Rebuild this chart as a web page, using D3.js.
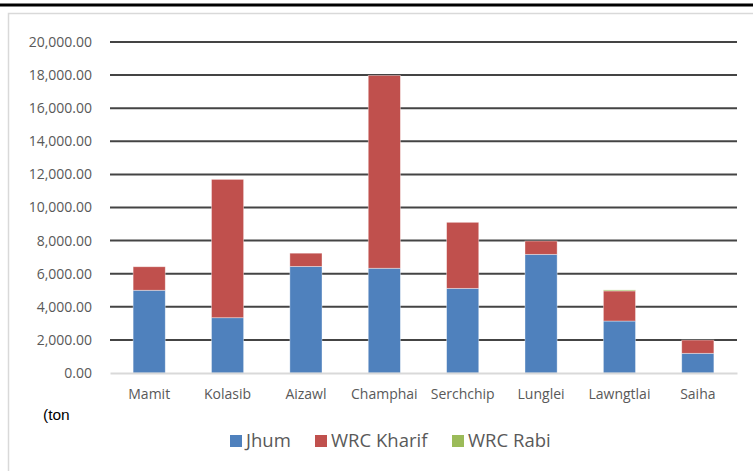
<!DOCTYPE html>
<html>
<head>
<meta charset="utf-8">
<script src="https://cdn.jsdelivr.net/npm/d3@7"></script>
<style>
  body { margin: 0; background: #fff; }
  svg { display: block; }
</style>
</head>
<body>
<div id="chart"></div>
<script>
    // Districts on the x axis
    var districts = ["Mamit", "Kolasib", "Aizawl", "Champhai", "Serchchip", "Lunglei", "Lawngtlai", "Saiha"];
    // Production per season (ton)
    var jhum = [5000, 3340, 6440, 6330, 5115, 7170, 3140, 1190];
    var wrcKharif = [1420, 8360, 800, 11650, 3990, 805, 1820, 800];
    var wrcRabi = [0, 0, 0, 0, 0, 0, 60, 0];
    var seriesNames = ["Jhum", "WRC Kharif", "WRC Rabi"];
    var yTicks = [0, 2000, 4000, 6000, 8000, 10000, 12000, 14000, 16000, 18000, 20000];
    var unitLabel = "(ton";

    var width = 753, height = 471;
    var margin = {top: 42, right: 16, bottom: 98, left: 110};
    var colors = ["#4f81bd", "#c0504d", "#9bbb59"];

    var svg = d3.select("#chart").append("svg")
        .attr("width", width)
        .attr("height", height);

    // top rule and the chart frame
    svg.append("rect")
        .attr("x", 0).attr("y", 3.5)
        .attr("width", width).attr("height", 3)
        .attr("fill", "#000");
    svg.append("path")
        .attr("d", "M8.5," + height + "V13.5H" + width)
        .attr("fill", "none")
        .attr("stroke", "#d9d9d9")
        .attr("stroke-width", 1.5);

    var rows = districts.map(function(d, i) {
        return {district: d, Jhum: jhum[i], "WRC Kharif": wrcKharif[i], "WRC Rabi": wrcRabi[i]};
    });
    var stacked = d3.stack().keys(seriesNames)(rows);

    var x = d3.scaleBand()
        .domain(districts)
        .range([margin.left, width - margin.right])
        .paddingInner(0.59)
        .paddingOuter(0.295);
    var y = d3.scaleLinear()
        .domain([0, 20000])
        .range([height - margin.bottom, margin.top]);

    // gridlines
    svg.append("g")
        .selectAll("line")
        .data(yTicks.filter(function(t) { return t > 0; }))
        .join("line")
        .attr("x1", margin.left)
        .attr("x2", width - margin.right)
        .attr("y1", function(d) { return y(d); })
        .attr("y2", function(d) { return y(d); })
        .attr("stroke", "#444")
        .attr("stroke-width", 2);

    // y axis labels
    var yAxis = d3.axisLeft(y)
        .tickValues(yTicks)
        .tickSize(0)
        .tickPadding(18)
        .tickFormat(d3.format(",.2f"));
    var gy = svg.append("g")
        .attr("transform", "translate(" + margin.left + ",0)")
        .call(yAxis);
    gy.select(".domain").remove();
    gy.selectAll("text")
        .attr("font-family", "Open Sans")
        .attr("font-size", "14px")
        .attr("fill", "#595959");

    // bars
    svg.append("g")
        .selectAll("g")
        .data(stacked)
        .join("g")
        .attr("fill", function(d, i) { return colors[i]; })
        .selectAll("rect")
        .data(function(d) { return d; })
        .join("rect")
        .attr("x", function(d) { return x(d.data.district); })
        .attr("y", function(d) { return y(d[1]); })
        .attr("width", x.bandwidth())
        .attr("height", function(d) { return y(d[0]) - y(d[1]); })
        .attr("stroke", "#fff")
        .attr("stroke-opacity", 0.5)
        .attr("stroke-width", 0.75);

    // x axis
    var xAxis = d3.axisBottom(x).tickSize(0).tickPadding(16);
    var gx = svg.append("g")
        .attr("transform", "translate(0," + y(0) + ")")
        .call(xAxis);
    gx.select(".domain")
        .attr("stroke", "#d9d9d9")
        .attr("stroke-width", 2);
    gx.selectAll("text")
        .attr("font-family", "Open Sans")
        .attr("font-size", "14px")
        .attr("fill", "#595959");

    svg.append("text")
        .attr("x", 43)
        .attr("y", 420)
        .attr("font-family", "Liberation Sans")
        .attr("font-size", "15.5px")
        .attr("fill", "#000")
        .text(unitLabel);

    // legend
    var legendX = [230, 315, 452];
    var legend = svg.append("g")
        .selectAll("g")
        .data(seriesNames)
        .join("g")
        .attr("transform", function(d, i) { return "translate(" + legendX[i] + ",435)"; });
    legend.append("rect")
        .attr("width", 12)
        .attr("height", 12)
        .attr("fill", function(d, i) { return colors[i]; });
    legend.append("text")
        .attr("x", 16)
        .attr("y", 6)
        .attr("dy", "0.35em")
        .attr("font-family", "Open Sans")
        .attr("font-size", "18.5px")
        .attr("fill", "#595959")
        .text(function(d) { return d; });
</script>
</body>
</html>
